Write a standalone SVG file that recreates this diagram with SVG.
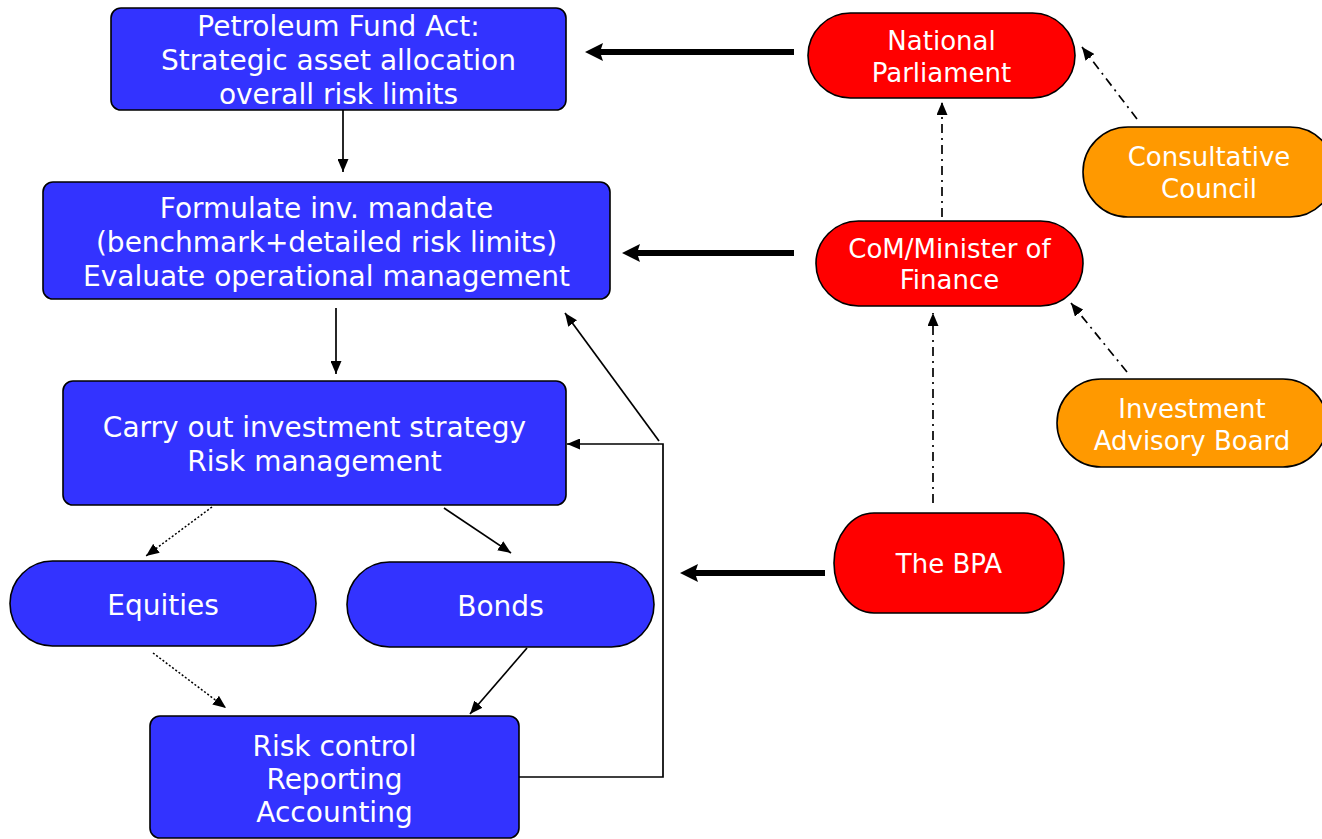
<svg xmlns="http://www.w3.org/2000/svg" width="1322" height="839" viewBox="0 0 1322 839">
<defs>
<style>
.blue{fill:#3333FF;stroke:#000;stroke-width:1.6}
.red{fill:#FF0000;stroke:#000;stroke-width:1.6}
.orange{fill:#FF9900;stroke:#000;stroke-width:1.6}
.t28{font-family:"DejaVu Sans",Verdana,sans-serif;font-size:28px;fill:#ffffff;text-anchor:middle}
.t26{font-family:"DejaVu Sans",Verdana,sans-serif;font-size:26px;fill:#ffffff;text-anchor:middle}
.ln{fill:none;stroke:#000;stroke-width:1.7}
.dot{fill:none;stroke:#000;stroke-width:1.5;stroke-dasharray:2 2}
.dd{fill:none;stroke:#000;stroke-width:1.7;stroke-dasharray:9 5 2 5}
.thick{fill:none;stroke:#000;stroke-width:6}
</style>
<marker id="a" viewBox="0 0 13 11" refX="13" refY="5.5" markerWidth="13" markerHeight="11" markerUnits="userSpaceOnUse" orient="auto">
<path d="M0,0 L13,5.5 L0,11 z" fill="#000"/>
</marker>
<marker id="big" viewBox="0 0 18 18" refX="8" refY="9" markerWidth="18" markerHeight="18" markerUnits="userSpaceOnUse" orient="auto">
<path d="M0,0 L18,9 L0,18 L3,9 z" fill="#000"/>
</marker>
</defs>

<g id="connectors">
<line class="ln" x1="343" y1="110" x2="343" y2="172" marker-end="url(#a)"/>
<line class="ln" x1="336" y1="308" x2="336" y2="374" marker-end="url(#a)"/>
<line class="dot" x1="212" y1="507" x2="146" y2="556" marker-end="url(#a)"/>
<line class="ln" x1="444" y1="508" x2="511" y2="553" marker-end="url(#a)"/>
<line class="dot" x1="153" y1="653" x2="226" y2="708" marker-end="url(#a)"/>
<line class="ln" x1="527" y1="648" x2="470" y2="714" marker-end="url(#a)"/>
<polyline class="ln" points="519,777 663,777 663,444 567,444" marker-end="url(#a)"/>
<line class="ln" x1="659" y1="441" x2="565" y2="313" marker-end="url(#a)"/>
<line class="thick" x1="794" y1="52" x2="595" y2="52" marker-end="url(#big)"/>
<line class="thick" x1="794" y1="253" x2="632" y2="253" marker-end="url(#big)"/>
<line class="thick" x1="825" y1="573" x2="690" y2="573" marker-end="url(#big)"/>
<line class="dd" x1="942" y1="217" x2="942" y2="102" marker-end="url(#a)"/>
<line class="dd" x1="933" y1="503" x2="933" y2="313" marker-end="url(#a)"/>
<line class="dd" x1="1137" y1="119" x2="1082" y2="47" marker-end="url(#a)"/>
<line class="dd" x1="1127" y1="372" x2="1071" y2="303" marker-end="url(#a)"/>
</g>

<g id="petroleum-fund-act">
<rect class="blue" x="111" y="8" width="455" height="102" rx="10"/>
<text class="t28" x="338.5" y="36">Petroleum Fund Act:</text>
<text class="t28" x="338.5" y="70">Strategic asset allocation</text>
<text class="t28" x="338.5" y="104">overall risk limits</text>
</g>

<g id="formulate-mandate">
<rect class="blue" x="43" y="182" width="567" height="117" rx="10"/>
<text class="t28" x="326.5" y="218">Formulate inv. mandate</text>
<text class="t28" x="326.5" y="252">(benchmark+detailed risk limits)</text>
<text class="t28" x="326.5" y="286">Evaluate operational management</text>
</g>

<g id="carry-out-strategy">
<rect class="blue" x="63" y="381" width="503" height="124" rx="10"/>
<text class="t28" x="314.5" y="437">Carry out investment strategy</text>
<text class="t28" x="314.5" y="471">Risk management</text>
</g>

<g id="equities">
<rect class="blue" x="10" y="561" width="306" height="85" rx="42.5"/>
<text class="t28" x="163" y="615">Equities</text>
</g>

<g id="bonds">
<rect class="blue" x="347" y="562" width="307" height="85" rx="42.5"/>
<text class="t28" x="500.5" y="616">Bonds</text>
</g>

<g id="risk-control">
<rect class="blue" x="150" y="716" width="369" height="122" rx="10"/>
<text class="t28" x="334.5" y="756">Risk control</text>
<text class="t28" x="334.5" y="789">Reporting</text>
<text class="t28" x="334.5" y="822">Accounting</text>
</g>

<g id="national-parliament">
<rect class="red" x="808" y="13" width="267" height="85" rx="42.5"/>
<text class="t26" x="941.5" y="50">National</text>
<text class="t26" x="941.5" y="82">Parliament</text>
</g>

<g id="com-minister">
<rect class="red" x="816" y="221" width="267" height="85" rx="42.5"/>
<text class="t26" x="949.5" y="258">CoM/Minister of</text>
<text class="t26" x="949.5" y="289">Finance</text>
</g>

<g id="consultative-council">
<rect class="orange" x="1083" y="127" width="252" height="90" rx="45"/>
<text class="t26" x="1209" y="166">Consultative</text>
<text class="t26" x="1209" y="198">Council</text>
</g>

<g id="investment-advisory-board">
<rect class="orange" x="1057" y="379" width="270" height="88" rx="44"/>
<text class="t26" x="1192" y="418">Investment</text>
<text class="t26" x="1192" y="450">Advisory Board</text>
</g>

<g id="the-bpa">
<rect class="red" x="834" y="513" width="230" height="100" rx="40" ry="50"/>
<text class="t26" x="949" y="573">The BPA</text>
</g>
</svg>
